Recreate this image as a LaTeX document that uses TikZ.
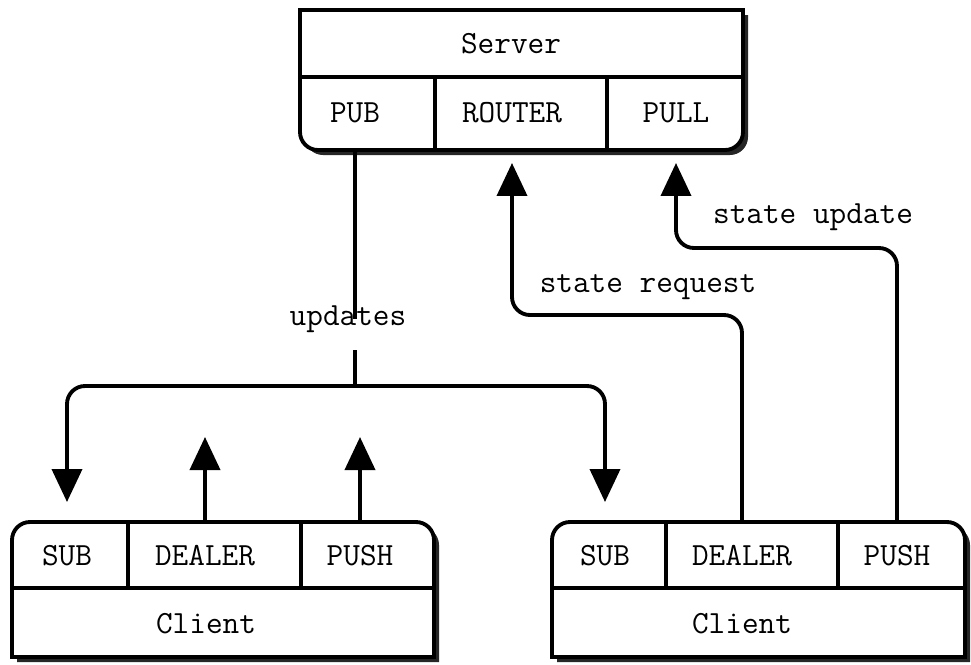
\documentclass[tikz,border=0pt]{standalone}
\usepackage{tikz}
\usetikzlibrary{arrows.meta}

\begin{document}
\begin{tikzpicture}[x=0.02cm,y=-0.02cm,
        box/.style={line width=2.2pt,line cap=rect},
        shade/.style={fill=black!85},
        cell/.style={anchor=base,inner sep=0pt,font=\fontsize{18.4}{22}\selectfont\ttfamily},
        link/.style={line width=2.2pt,rounded corners=0.36cm},
        arrow/.style={link,-{Triangle[length=0.66cm,width=0.6cm]}}]
        \useasboundingbox (0,0) rectangle (971,664);
        \coordinate (srv-bot) at (0,150);
        \coordinate (cli-top) at (0,522);
        % server box
        \fill[shade,rounded corners=0.36cm] (305,15) -- (305,155) -- (748,155) -- (748,15);
        \fill[white,rounded corners=0.36cm] (300,10) -- (300,150) -- (743,150) -- (743,10);
        \draw[box,rounded corners=0.36cm] (300,10) -- (300,150) -- (743,150) -- (743,10);
        \draw[box] (300,10) -- (743,10);
        \draw[box] (300,77) -- (743,77) (435,77) -- (435,150) (607,77) -- (607,150);
        % client boxes
        \fill[shade,rounded corners=0.36cm] (17,662) -- (17,527) -- (439,527) -- (439,662);
        \fill[white,rounded corners=0.36cm] (12,657) -- (12,522) -- (434,522) -- (434,657);
        \draw[box,rounded corners=0.36cm] (12,657) -- (12,522) -- (434,522) -- (434,657);
        \draw[box] (12,657) -- (434,657);
        \draw[box] (12,588) -- (434,588) (128,522) -- (128,588) (301,522) -- (301,588);
        \fill[shade,rounded corners=0.36cm] (557,662) -- (557,527) -- (970,527) -- (970,662);
        \fill[white,rounded corners=0.36cm] (552,657) -- (552,522) -- (965,522) -- (965,657);
        \draw[box,rounded corners=0.36cm] (552,657) -- (552,522) -- (965,522) -- (965,657);
        \draw[box] (552,657) -- (965,657);
        \draw[box] (552,588) -- (965,588) (666,522) -- (666,588) (838,522) -- (838,588);
        % labels
        \node[cell] (server) at (511,53) {Server};
        \node[cell] (pub) at (355,122) {PUB};
        \node[cell] (router) at (512,122) {ROUTER};
        \node[cell] (pull) at (676,122) {PULL};
        \node[cell] (sub1) at (67,565) {SUB};
        \node[cell] (dealer1) at (205,565) {DEALER};
        \node[cell] (push1) at (360,565) {PUSH};
        \node[cell] (client1) at (206,633) {Client};
        \node[cell] (sub2) at (605,565) {SUB};
        \node[cell] (dealer2) at (742,565) {DEALER};
        \node[cell] (push2) at (897,565) {PUSH};
        \node[cell] (client2) at (742,633) {Client};
        \node[cell] (updates) at (348,325) {updates};
        \node[cell] (request) at (648,292) {state request};
        \node[cell] (stupdate) at (813,223) {state update};
        % connectors
        \coordinate (split) at (355,386);
        \draw[link] (pub |- srv-bot) -- (pub |- updates.center);
        \draw[link] (split) -- ++(0,-36);
        \draw[arrow,shorten >=0.4cm] (split) -| (sub1 |- cli-top);
        \draw[arrow,shorten >=0.4cm] (split) -| (sub2 |- cli-top);
        \draw[arrow] (dealer1 |- cli-top) -- ++(0,-85);
        \draw[arrow] (push1 |- cli-top) -- ++(0,-85);
        \draw[arrow,shorten >=0.26cm] (dealer2 |- cli-top) |- (router |- 0,315) -- (router |- srv-bot);
        \draw[arrow,shorten >=0.26cm] (push2 |- cli-top) |- (pull |- 0,248) -- (pull |- srv-bot);
\end{tikzpicture}
\end{document}
